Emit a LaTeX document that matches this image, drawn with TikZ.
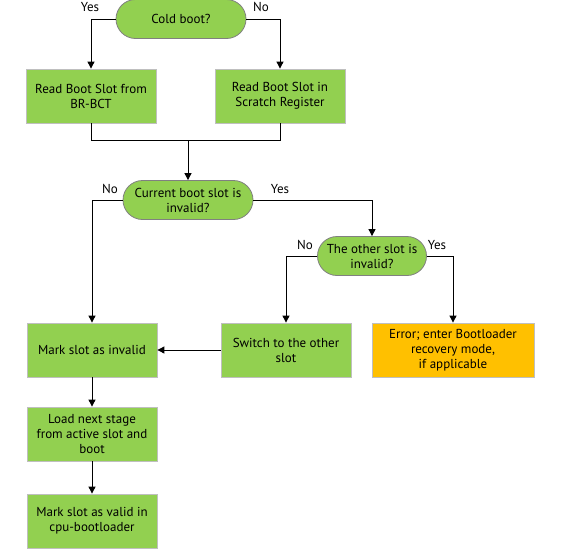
\documentclass[tikz,border=0pt]{standalone}
\usepackage{fontspec}
\setmainfont{PT Sans}
\usepackage{tikz}
\usetikzlibrary{arrows.meta}

\definecolor{boxgreen}{HTML}{92D050}
\definecolor{boxorange}{HTML}{FFC000}
\definecolor{boxedge}{HTML}{BFBFBF}

\tikzset{
  every node/.style={font=\fontsize{13}{15}\selectfont},
  stepbox/.style={draw=boxedge, fill=boxgreen, line width=0.8pt,
    minimum width=130pt, minimum height=54pt, align=center, inner sep=1pt},
  errbox/.style={stepbox, fill=boxorange, minimum width=162pt},
  decide/.style={draw=gray, fill=boxgreen, line width=0.8pt, rounded corners=19.5pt,
    minimum width=130pt, minimum height=39pt, align=center, inner sep=1pt},
  flow/.style={line width=0.9pt, -{Triangle[length=7pt,width=7pt]}},
  joint/.style={line width=0.9pt}
}

\begin{document}
\begin{tikzpicture}[x=1pt,y=-1pt]

\useasboundingbox (0,0) rectangle (564,551);

% decisions
\node[decide] (cold) at (181,19) {Cold boot?};
\node[decide] (cur) at (188,200) {Current boot slot is\\invalid?};
\node[decide, minimum width=109pt] (other) at (372,256) {The other slot is\\invalid?};

% steps
\node[stepbox] (rbct) at (91,96) {Read Boot Slot from\\BR-BCT};
\node[stepbox] (rscr) at (280,96) {Read Boot Slot in\\Scratch Register};
\node[stepbox] (mark) at (92,350) {Mark slot as invalid};
\node[stepbox] (switch) at (286,350) {Switch to the other\\slot};
\node[errbox] (err) at (453,350) {Error; enter Bootloader\\recovery mode,\\if applicable};
\node[stepbox] (load) at (92,434) {Load next stage\\from active slot and\\boot};
\node[stepbox] (valid) at (92,521) {Mark slot as valid in\\cpu-bootloader};

% labels
\node (yes1) at (90,7) {Yes};
\node (no1) at (261,7) {No};
\node (no2) at (110,189) {No};
\node (yes2) at (280,189) {Yes};
\node (no3) at (305,245) {No};
\node (yes3) at (437,245) {Yes};

\coordinate (merge) at (188,140);

% connectors
\draw[flow] (cold.west) -| (rbct.north);
\draw[flow] (cold.east) -| (rscr.north);
\draw[joint] (rbct.south) |- (merge);
\draw[joint] (rscr.south) |- (merge);
\draw[flow] (merge) -- (cur.north);
\draw[flow] (cur.west) -| (mark.north);
\draw[flow] (cur.east) -| (other.north);
\draw[flow] (other.west) -| (switch.north);
\draw[flow] (other.east) -| (err.north);
\draw[flow] (switch.west) -- (mark.east);
\draw[flow] (mark.south) -- (load.north);
\draw[flow] (load.south) -- (valid.north);

\end{tikzpicture}
\end{document}
